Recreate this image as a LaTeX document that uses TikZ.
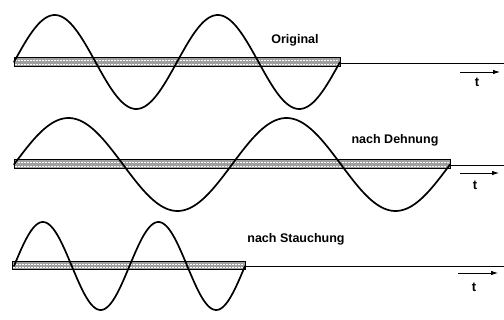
\documentclass[tikz,border=0pt]{standalone}
\usepackage{fontspec}
\setmainfont{Liberation Sans}
\usetikzlibrary{arrows.meta}
\begin{document}
\begin{tikzpicture}[x=1pt,y=-1pt,
  wave/.style={line width=1.7pt,line join=round,line cap=round},
  axis/.style={line width=0.9pt},
  bar/.style={draw=black,line width=1pt,fill=gray!75},
  bardots/.style={white,line width=1pt,dash pattern=on 1.8pt off 1.2pt},
  tarrow/.style={line width=0.8pt,-{Latex[length=7pt,width=4.5pt]}},
  lbl/.style={font=\fontsize{12.5}{14}\selectfont\bfseries,inner sep=0pt},
  tlbl/.style={font=\fontsize{13}{14}\selectfont\bfseries,inner sep=0pt}]
\useasboundingbox (0,0) rectangle (504,320);
% ---------- row 1: Original ----------
\fill[bar] (14,58) rectangle (340,67);
\draw[bardots] (15,60.9) -- (339,60.9);
\draw[bardots] (15,64.3) -- (339,64.3);
\coordinate (a1) at (340,63);
\coordinate (b1) at (504,63);
\draw[axis] (a1) -- (b1);
\draw[wave,domain=0:2,samples=160,smooth] plot ({14+\x*163},{62-47*sin(\x*360)});
\node[lbl] (o) at (295,40) {Original};
\coordinate (s1) at (460,72); \coordinate (e1) at (500,72);
\draw[tarrow] (s1) -- (e1);
\node[tlbl] (t1) at (477,82) {t};
% ---------- row 2: nach Dehnung ----------
\fill[bar] (14,160) rectangle (450,169);
\draw[bardots] (15,162.9) -- (449,162.9);
\draw[bardots] (15,166.3) -- (449,166.3);
\coordinate (a2) at (450,165);
\coordinate (b2) at (504,165);
\draw[axis] (a2) -- (b2);
\draw[wave,domain=0:2,samples=180,smooth] plot ({14+\x*218},{164.5-46.5*sin(\x*360)});
\node[lbl] (d) at (395,140) {nach Dehnung};
\coordinate (s2) at (460,173); \coordinate (e2) at (499,173);
\draw[tarrow] (s2) -- (e2);
\node[tlbl] (t2) at (475,185) {t};
% ---------- row 3: nach Stauchung ----------
\fill[bar] (12,262) rectangle (245,270);
\draw[bardots] (13,264.7) -- (244,264.7);
\draw[bardots] (13,267.7) -- (244,267.7);
\coordinate (a3) at (245,266);
\coordinate (b3) at (504,266);
\draw[axis] (a3) -- (b3);
\draw[wave,domain=0:2,samples=160,smooth] plot ({14+\x*115.5},{266-44*sin(\x*360)});
\node[lbl] (s) at (296,239) {nach Stauchung};
\coordinate (s3) at (458,273); \coordinate (e3) at (498,273);
\draw[tarrow] (s3) -- (e3);
\node[tlbl] (t3) at (474,287) {t};
\end{tikzpicture}
\end{document}
